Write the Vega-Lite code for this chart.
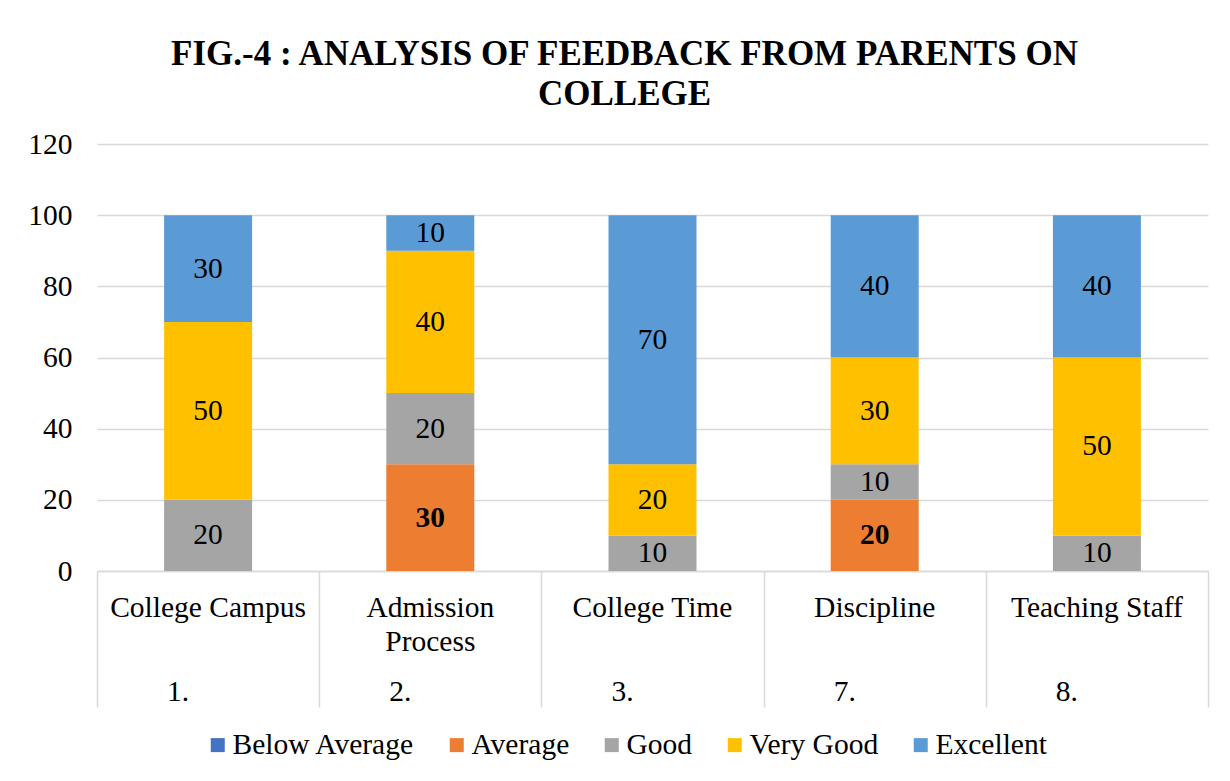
{
  "$schema": "https://vega.github.io/schema/vega-lite/v6.json",
  "width": 1111,
  "height": 427,
  "padding": {"left": 27, "top": 37, "right": 10, "bottom": 5},
  "background": "white",
  "config": {"view": {"stroke": null}},
  "title": {
    "text": ["FIG.-4 : ANALYSIS OF FEEDBACK FROM PARENTS ON", "COLLEGE"],
    "font": "Liberation Serif",
    "fontSize": 35,
    "fontWeight": "bold",
    "color": "#000000",
    "lineHeight": 40,
    "offset": 17,
    "dx": -28,
    "anchor": "middle"
  },
  "data": {
    "values": [
      {"item": "College Campus", "rating": "Good", "k": 3, "value": 20},
      {"item": "College Campus", "rating": "Very Good", "k": 4, "value": 50},
      {"item": "College Campus", "rating": "Excellent", "k": 5, "value": 30},
      {"item": "Admission Process", "rating": "Average", "k": 2, "value": 30},
      {"item": "Admission Process", "rating": "Good", "k": 3, "value": 20},
      {"item": "Admission Process", "rating": "Very Good", "k": 4, "value": 40},
      {"item": "Admission Process", "rating": "Excellent", "k": 5, "value": 10},
      {"item": "College Time", "rating": "Good", "k": 3, "value": 10},
      {"item": "College Time", "rating": "Very Good", "k": 4, "value": 20},
      {"item": "College Time", "rating": "Excellent", "k": 5, "value": 70},
      {"item": "Discipline", "rating": "Average", "k": 2, "value": 20},
      {"item": "Discipline", "rating": "Good", "k": 3, "value": 10},
      {"item": "Discipline", "rating": "Very Good", "k": 4, "value": 30},
      {"item": "Discipline", "rating": "Excellent", "k": 5, "value": 40},
      {"item": "Teaching Staff", "rating": "Good", "k": 3, "value": 10},
      {"item": "Teaching Staff", "rating": "Very Good", "k": 4, "value": 50},
      {"item": "Teaching Staff", "rating": "Excellent", "k": 5, "value": 40}
    ]
  },
  "resolve": {"axis": {"x": "independent"}},
  "layer": [
    {
      "mark": {"type": "bar", "width": {"band": 0.396}},
      "encoding": {
        "x": {
          "field": "item",
          "type": "nominal",
          "sort": null,
          "scale": {"paddingInner": 0, "paddingOuter": 0},
          "axis": {
            "orient": "bottom",
            "title": null,
            "labels": false,
            "tickBand": "extent",
            "ticks": true,
            "tickSize": 136,
            "tickColor": "#d9d9d9",
            "tickWidth": 1.5,
            "domain": true,
            "domainColor": "#d9d9d9",
            "domainWidth": 1.5,
            "grid": false
          }
        },
        "y": {
          "field": "value",
          "type": "quantitative",
          "stack": "zero",
          "scale": {"domain": [0, 120]},
          "axis": {
            "title": null,
            "values": [0, 20, 40, 60, 80, 100, 120],
            "labelFont": "Liberation Serif",
            "labelFontSize": 29.5,
            "labelColor": "#000000",
            "labelPadding": 25,
            "domain": false,
            "ticks": false,
            "grid": true,
            "gridColor": "#d9d9d9",
            "gridWidth": 1.5
          }
        },
        "order": {"field": "k", "type": "quantitative"},
        "color": {
          "field": "rating",
          "type": "nominal",
          "scale": {
            "domain": ["Below Average", "Average", "Good", "Very Good", "Excellent"],
            "range": ["#4472C4", "#ED7D31", "#A5A5A5", "#FFC000", "#5B9BD5"]
          },
          "legend": {
            "orient": "none",
            "legendX": 106,
            "legendY": 586,
            "direction": "horizontal",
            "title": null,
            "symbolType": "square",
            "symbolSize": 196,
            "symbolStrokeWidth": 0,
            "labelFont": "Liberation Serif",
            "labelFontSize": 29.5,
            "labelColor": "#000000",
            "labelOffset": 0,
            "labelLimit": 400,
            "columnPadding": 27
          }
        }
      }
    },
    {
      "mark": {"type": "text", "font": "Liberation Serif", "fontSize": 29.5, "color": "#000000", "baseline": "middle"},
      "encoding": {
        "x": {
          "field": "item",
          "type": "nominal",
          "sort": null,
          "axis": {
            "orient": "bottom",
            "title": null,
            "labelAngle": 0,
            "labelFont": "Liberation Serif",
            "labelFontSize": 29.5,
            "labelColor": "#000000",
            "labelBaseline": "top",
            "labelLineHeight": 34,
            "labelPadding": 22,
            "labelLimit": 400,
            "labelOverlap": false,
            "labelExpr": "datum.value === 'Admission Process' ? ['Admission', 'Process'] : datum.value",
            "ticks": false,
            "domain": false,
            "grid": false
          }
        },
        "y": {"field": "value", "type": "quantitative", "stack": "zero", "bandPosition": 0.5},
        "order": {"field": "k", "type": "quantitative"},
        "text": {"condition": {"test": "datum.rating === 'Average'", "value": ""}, "field": "value", "type": "quantitative"}
      }
    },
    {
      "transform": [{"filter": "datum.rating === 'Average'"}],
      "mark": {"type": "text", "font": "Liberation Serif", "fontSize": 29.5, "fontWeight": "bold", "color": "#000000", "baseline": "middle"},
      "encoding": {
        "x": {
          "field": "item",
          "type": "nominal",
          "sort": null,
          "axis": {
            "orient": "bottom",
            "title": null,
            "labelAngle": 0,
            "labelFont": "Liberation Serif",
            "labelFontSize": 29.5,
            "labelColor": "#000000",
            "labelBaseline": "top",
            "labelPadding": 106,
            "labelOffset": -30,
            "labelLimit": 400,
            "labelOverlap": false,
            "labelExpr": "datum.value === 'College Campus' ? '1.' : datum.value === 'Admission Process' ? '2.' : datum.value === 'College Time' ? '3.' : datum.value === 'Discipline' ? '7.' : '8.'",
            "ticks": false,
            "domain": false,
            "grid": false
          }
        },
        "y": {"field": "value", "type": "quantitative", "stack": "zero", "bandPosition": 0.5},
        "text": {"field": "value", "type": "quantitative"}
      }
    }
  ]
}
